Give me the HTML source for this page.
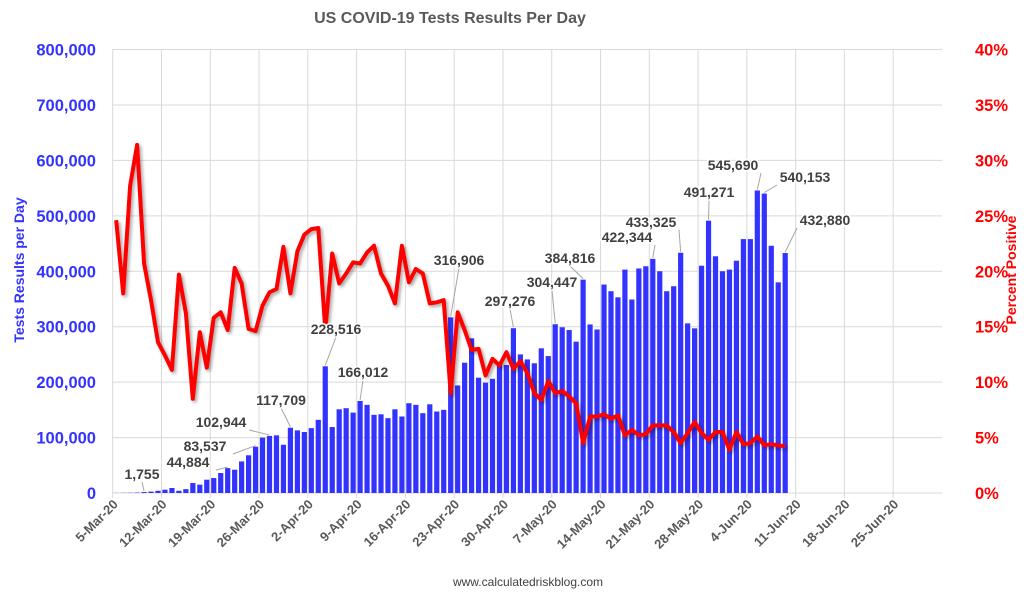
<!DOCTYPE html>
<html><head><meta charset="utf-8">
<style>
html,body{margin:0;padding:0;background:#fff;}
svg{display:block;font-family:"Liberation Sans",Arial,sans-serif;}
</style></head>
<body>
<svg id="chart" width="1030" height="595" viewBox="0 0 1030 595">
<defs>
<filter id="sh" x="-5%" y="-5%" width="110%" height="110%"><feDropShadow dx="2" dy="2" stdDeviation="1.5" flood-color="#000" flood-opacity="0.35"/></filter>
</defs>
<text x="450" y="23" text-anchor="middle" font-size="16" font-weight="bold" fill="#595959">US COVID-19 Tests Results Per Day</text>
<g id="grid"></g>
<g id="bars"></g>
<g id="line"></g>
<g id="labels"></g>
<g id="axes"></g>
<text transform="translate(24,270) rotate(-90)" text-anchor="middle" font-size="14" font-weight="bold" fill="#3333ff">Tests Results per Day</text>
<text transform="translate(1016,270) rotate(-90)" text-anchor="middle" font-size="14" font-weight="bold" fill="#ff0000">Percent Positive</text>
<text x="528" y="586" text-anchor="middle" font-size="12" fill="#404040">www.calculatedriskblog.com</text>
</svg>
<script>
const startDate = "2020-03-05";
const tests = [200,300,500,800,1755,2500,4000,6000,9000,4000,7000,18000,15000,24000,27000,36000,44884,42000,57000,68000,83537,100000,102944,104000,87000,117709,113000,110000,117000,132000,228516,119000,151000,153000,145000,166012,159000,141000,142000,135000,151000,138000,162000,159000,144000,160000,147000,150000,316906,194000,235000,279000,208000,199000,206000,231000,231000,297276,250000,241000,234000,261000,247000,304447,299000,294000,273000,384816,304000,295000,376000,364000,353000,403000,349000,405000,409000,422344,400000,364000,373000,433325,306000,297000,410000,491271,427000,400000,403000,419000,458000,458000,545690,540153,446000,380000,432880];
const pctPositive = [24.6,18.0,27.7,31.4,20.7,17.4,13.6,12.4,11.1,19.7,16.2,8.5,14.5,11.3,15.8,16.3,14.7,20.3,18.9,14.8,14.6,16.9,18.1,18.4,22.2,18.0,21.8,23.3,23.8,23.9,14.7,21.6,18.9,19.8,20.8,20.7,21.7,22.3,19.8,18.7,17.1,22.3,19.0,20.2,19.8,17.1,17.2,17.4,9.0,16.3,14.7,12.9,13.0,10.6,12.1,11.5,12.7,11.2,11.9,10.8,9.0,8.4,10.1,9.0,9.2,8.7,8.1,4.5,6.9,6.9,7.1,6.7,7.0,5.2,5.7,5.2,5.3,6.1,6.1,6.1,5.5,4.5,5.4,6.4,5.4,4.8,5.5,5.5,3.9,5.5,4.4,4.5,5.1,4.3,4.4,4.3,4.2];
const leftTicks = [0,100000,200000,300000,400000,500000,600000,700000,800000];
const rightTicks = [0,5,10,15,20,25,30,35,40];
const dateTicks = ["5-Mar-20","12-Mar-20","19-Mar-20","26-Mar-20","2-Apr-20","9-Apr-20","16-Apr-20","23-Apr-20","30-Apr-20","7-May-20","14-May-20","21-May-20","28-May-20","4-Jun-20","11-Jun-20","18-Jun-20","25-Jun-20"];
const annotatedDays = [4,16,20,22,25,30,35,48,57,63,67,77,81,85,92,93,96];
const annotationPos = [[142,480],[188,468],[205,452],[221,428],[281,406],[336,335],[363,378],[459,266],[510,307],[552,288],[570,264],[627,243],[651,228],[709,198],[733,171],[805,183],[825,226]];

const NS="http://www.w3.org/2000/svg";
const L=112.7,R=942,T=49.5,B=493,days=119;
const dayW=(R-L)/days;
const xDay=i=>L+dayW*(i+0.5);
const yL=v=>B-(v/800000)*(B-T);
const yR=v=>B-(v/40)*(B-T);
function mk(tag,attrs,parent){const e=document.createElementNS(NS,tag);for(const k in attrs)e.setAttribute(k,attrs[k]);parent.appendChild(e);return e;}
const grid=document.getElementById('grid'),axes=document.getElementById('axes');
leftTicks.forEach((v,i)=>{
  const g=mk('line',{x1:L,x2:R,y1:yL(v),y2:yL(v),stroke:'#d9d9d9','stroke-width':1},grid);
  
  
  const t=mk('text',{x:96,y:yL(v)+6,'text-anchor':'end','font-size':16.5,'font-weight':'bold',fill:'#3333ff'},axes);
  t.textContent=v.toLocaleString('en-US');
  
  
  const r=mk('text',{x:975,y:yR(rightTicks[i])+6,'text-anchor':'start','font-size':16.5,'font-weight':'bold',fill:'#ff0000'},axes);
  r.textContent=rightTicks[i]+'%';
  
  
});
dateTicks.forEach((d,i)=>{
  const x=L+i*7*dayW;
  const g=mk('line',{x1:x,x2:x,y1:T,y2:B+5,stroke:'#d9d9d9','stroke-width':1},grid);
  
  
  const t=mk('text',{transform:`translate(${x+6},${B+12}) rotate(-45)`,'text-anchor':'end','font-size':13,'font-weight':'bold',fill:'#595959'},axes);
  t.textContent=d;
  
  
});
const bars=document.getElementById('bars');
tests.forEach((v,i)=>{
  const b=mk('rect',{x:xDay(i)-2.6,y:yL(v),width:5.2,height:B-yL(v),fill:'#3333ff'},bars);
  
  
});
const line=document.getElementById('line');
const p=mk('polyline',{points:pctPositive.map((v,i)=>xDay(i).toFixed(1)+','+yR(v).toFixed(1)).join(' '),fill:'none',stroke:'#ff0000','stroke-width':4,'stroke-linejoin':'round',filter:'url(#sh)'},line);


const labels=document.getElementById('labels');
annotatedDays.forEach((d,i)=>{
  const [lx,ly]=annotationPos[i];
  const bx=xDay(d),by=yL(tests[d]);
  const sx=lx<bx-20?lx+28:(lx>bx+20?lx-28:lx);
  const ln=mk('line',{x1:sx,y1:ly+2,x2:bx,y2:by-1,stroke:'#a6a6a6','stroke-width':1},labels);
  
  
  const bg=mk('text',{x:lx,y:ly-1,'text-anchor':'middle','font-size':14,'font-weight':'bold',fill:'#404040',stroke:'#fff','stroke-width':3,'paint-order':'stroke'},labels);
  bg.textContent=tests[d].toLocaleString('en-US');
  
  
});
</script>
</body></html>
